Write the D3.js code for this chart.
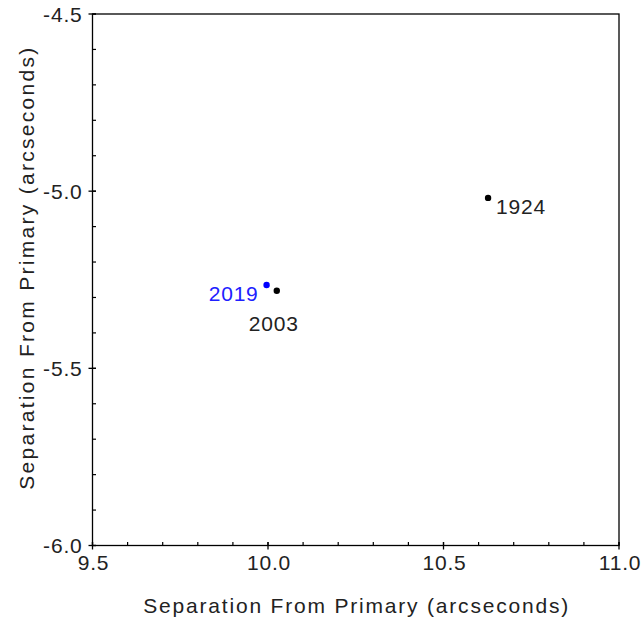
<!DOCTYPE html>
<html><head><meta charset="utf-8">
<script src="https://cdn.jsdelivr.net/npm/d3@7"></script>
<style>
body{margin:0;background:#fff;}
text{font-family:"Liberation Sans",Arial,sans-serif;}
</style></head>
<body><svg id="c" width="644" height="623"></svg>
<script>
const years = ["1924","2003","2019"];
const sepX = [10.627, 10.025, 9.996];
const sepY = [-5.019, -5.281, -5.265];
const colors = ["#000000","#000000","#0000ff"];
const labelColors = ["#222222","#222222","#2020ff"];
const xTicks = [9.5, 10.0, 10.5, 11.0];
const yTicks = [-6.0, -5.5, -5.0, -4.5];
const xTitle = "Separation From Primary (arcseconds)";
const yTitle = "Separation From Primary (arcseconds)";

const svg = d3.select("#c");
const L=92.5, R=619, T=14, B=545.5;
const x = d3.scaleLinear().domain([9.5,11.0]).range([L,R]);
const y = d3.scaleLinear().domain([-6.0,-4.5]).range([B,T]);
const fs = 21;

// frame
svg.append("rect").attr("x",L).attr("y",T).attr("width",R-L).attr("height",B-T)
  .attr("fill","none").attr("stroke","#000").attr("stroke-width",1.3);

// minor ticks (inward)
const minorX = d3.range(9.5,11.0001,0.1).map(v=>+v.toFixed(1));
const minorY = d3.range(-6.0,-4.4999,0.1).map(v=>+v.toFixed(1));
svg.append("g").selectAll("line").data(minorX).join("line")
  .attr("x1",d=>x(d)).attr("x2",d=>x(d)).attr("y1",B).attr("y2",B-3.5)
  .attr("stroke","#000").attr("stroke-width",1.2);
svg.append("g").selectAll("line").data(minorY).join("line")
  .attr("y1",d=>y(d)).attr("y2",d=>y(d)).attr("x1",L).attr("x2",L+3.5)
  .attr("stroke","#000").attr("stroke-width",1.2);
// major ticks (cross)
svg.append("g").selectAll("line").data(xTicks).join("line")
  .attr("x1",d=>x(d)).attr("x2",d=>x(d)).attr("y1",B-3.5).attr("y2",B+4)
  .attr("stroke","#000").attr("stroke-width",1.3);
svg.append("g").selectAll("line").data(yTicks).join("line")
  .attr("y1",d=>y(d)).attr("y2",d=>y(d)).attr("x1",L-4).attr("x2",L+3.5)
  .attr("stroke","#000").attr("stroke-width",1.3);

// tick labels
svg.append("g").selectAll("text").data(xTicks).join("text")
  .attr("x",d=>x(d)+1).attr("y",B+24).attr("text-anchor","middle")
  .attr("font-size",fs).attr("letter-spacing",0.8).attr("fill","#222")
  .text(d=>d.toFixed(1));
svg.append("g").selectAll("text").data(yTicks).join("text")
  .attr("x",L-10).attr("y",d=>y(d)+7.5).attr("text-anchor","end")
  .attr("font-size",fs).attr("letter-spacing",0.8).attr("fill","#222")
  .text(d=>d.toFixed(1));

// titles
svg.append("text").attr("x",(L+R)/2).attr("y",613).attr("text-anchor","middle")
  .attr("font-size",fs).attr("fill","#222").attr("textLength",425).attr("lengthAdjust","spacing")
  .text(xTitle);
svg.append("text").attr("transform",`translate(34,${(T+B)/2-11}) rotate(-90)`).attr("text-anchor","middle")
  .attr("font-size",fs).attr("fill","#222").attr("textLength",442).attr("lengthAdjust","spacing")
  .text(yTitle);

// points
svg.append("g").selectAll("circle").data(years).join("circle")
  .attr("cx",(d,i)=>x(sepX[i])).attr("cy",(d,i)=>y(sepY[i])).attr("r",3.2)
  .attr("fill",(d,i)=>colors[i]);

// labels
const lab = [
  {dx:8, dy:16, anchor:"start"},
  {dx:-28, dy:40, anchor:"start"},
  {dx:-8, dy:16, anchor:"end"}
];
svg.append("g").selectAll("text").data(years).join("text")
  .attr("x",(d,i)=>x(sepX[i])+lab[i].dx).attr("y",(d,i)=>y(sepY[i])+lab[i].dy)
  .attr("text-anchor",(d,i)=>lab[i].anchor).attr("font-size",fs).attr("letter-spacing",0.8)
  .attr("fill",(d,i)=>labelColors[i])
  .text(d=>d);
</script></body></html>
